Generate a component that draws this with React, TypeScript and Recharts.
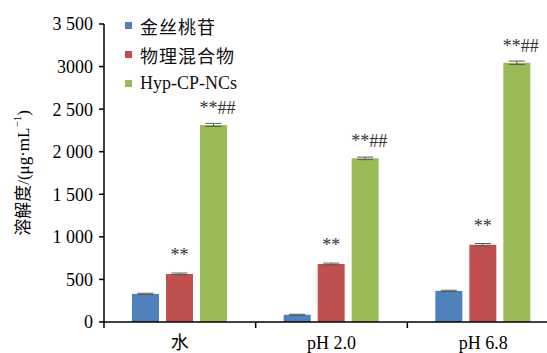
import { Bar, BarChart, ErrorBar, LabelList, XAxis, YAxis } from 'recharts'

const categories = ['水', 'pH 2.0', 'pH 6.8']
const hyperoside = [330, 85, 365]
const hyperosideErr = [8, 6, 8]
const physicalMix = [565, 680, 908]
const physicalMixErr = [10, 12, 14]
const nanocrystals = [2315, 1922, 3045]
const nanocrystalsErr = [18, 15, 20]
const mixMarks = ['**', '**', '**']
const ncMarks = ['**##', '**##', '**##']
const seriesNames = ['金丝桃苷', '物理混合物', 'Hyp-CP-NCs']
const yTicks = [0, 500, 1000, 1500, 2000, 2500, 3000, 3500]
const yTickLabels = ['0', '500', '1 000', '1 500', '2 000', '2 500', '3000', '3 500']

const BLUE = '#4f81bd'
const RED = '#c0504d'
const GREEN = '#9bbb59'
const colors = [BLUE, RED, GREEN]
const SERIF = '"Liberation Serif", "Times New Roman", "Noto Sans CJK SC", serif'

const CHART_W = 559
const CHART_H = 353
const Y_AXIS_W = 104
const BAND = (CHART_W - Y_AXIS_W) / categories.length

const data = categories.map((name, i) => ({
  name,
  hyp: hyperoside[i],
  hypErr: hyperosideErr[i],
  mix: physicalMix[i],
  mixErr: physicalMixErr[i],
  mixMark: mixMarks[i],
  nc: nanocrystals[i],
  ncErr: nanocrystalsErr[i],
  ncMark: ncMarks[i],
}))

function CategoryTick(props: any) {
  const { x, y, payload } = props
  const edge = x - BAND / 2
  return (
    <g>
      <line x1={edge} x2={edge} y1={y} y2={y + 6} stroke="#000" strokeWidth={1.5} />
      <text x={x} y={y + 27} textAnchor="middle" fontSize={18} fontFamily={SERIF} fill="#000">
        {payload.value}
      </text>
    </g>
  )
}

function YTitle() {
  return (
    <text
      x={23}
      y={173}
      transform="rotate(-90 23 173)"
      textAnchor="middle"
      dominantBaseline="central"
      fontSize={17}
      fontFamily={SERIF}
      fill="#000"
    >
      溶解度/(μg·mL
      <tspan dy={-6} fontSize={11}>−1</tspan>
      <tspan dy={6}>)</tspan>
    </text>
  )
}

function LegendBox() {
  return (
    <div style={{ position: 'absolute', left: 125, top: 11, fontFamily: SERIF, fontSize: 18 }}>
      {seriesNames.map((name, i) => (
        <div key={name} style={{ display: 'flex', alignItems: 'center', height: 29 }}>
          <span style={{ width: 7, height: 7, background: colors[i], display: 'inline-block' }} />
          <span style={{ marginLeft: 8, color: '#111', letterSpacing: i < 2 ? 1 : 0 }}>{name}</span>
        </div>
      ))}
    </div>
  )
}

export default function App() {
  return (
    <div
      style={{
        position: 'fixed',
        left: 0,
        top: 0,
        width: 547,
        height: 353,
        overflow: 'hidden',
        background: '#fff',
      }}
    >
      <BarChart
        width={CHART_W}
        height={CHART_H}
        data={data}
        margin={{ top: 24, right: 0, bottom: 0, left: 0 }}
        barSize={27}
        barGap={7}
      >
        <XAxis
          dataKey="name"
          height={31}
          axisLine={{ stroke: '#000', strokeWidth: 1.5 }}
          tickLine={false}
          tickSize={0}
          tickMargin={0}
          tick={<CategoryTick />}
          interval={0}
        />
        <YAxis
          width={Y_AXIS_W}
          domain={[0, 3500]}
          ticks={yTicks}
          interval={0}
          axisLine={{ stroke: '#000', strokeWidth: 1.5 }}
          tickLine={{ stroke: '#000', strokeWidth: 1.5 }}
          tickSize={5}
          tickMargin={6}
          tick={{ fill: '#000', fontSize: 18, fontFamily: SERIF }}
          tickFormatter={(v: number) => yTickLabels[yTicks.indexOf(v)] ?? String(v)}
          label={{ content: () => <YTitle /> }}
        />
        <Bar dataKey="hyp" fill={BLUE} isAnimationActive={false}>
          <ErrorBar dataKey="hypErr" width={8} stroke="#595959" strokeWidth={1} />
        </Bar>
        <Bar dataKey="mix" fill={RED} isAnimationActive={false}>
          <ErrorBar dataKey="mixErr" width={8} stroke="#595959" strokeWidth={1} />
          <LabelList dataKey="mixMark" position="top" offset={13} fill="#333" fontSize={18} fontFamily={SERIF} />
        </Bar>
        <Bar dataKey="nc" fill={GREEN} isAnimationActive={false}>
          <ErrorBar dataKey="ncErr" width={8} stroke="#595959" strokeWidth={1} />
          <LabelList dataKey="ncMark" position="top" offset={11} dx={4} fill="#333" fontSize={18} fontFamily={SERIF} />
        </Bar>
      </BarChart>
      <LegendBox />
    </div>
  )
}
